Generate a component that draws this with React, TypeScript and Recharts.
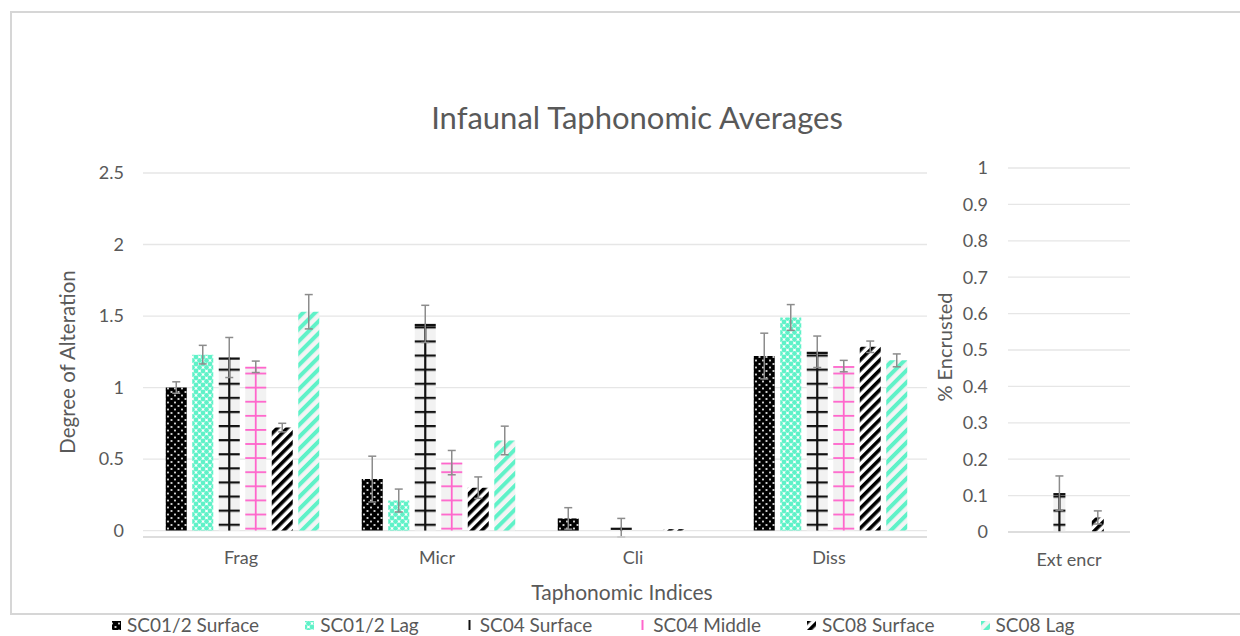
import React from 'react';
import { BarChart, Bar, XAxis, YAxis, CartesianGrid, ErrorBar } from 'recharts';

// ---------- data ----------
const categories = ['Frag', 'Micr', 'Cli', 'Diss'];
const seriesNames = ['SC01/2 Surface', 'SC01/2 Lag', 'SC04 Surface', 'SC04 Middle', 'SC08 Surface', 'SC08 Lag'];

const sc012Surface = [1.0, 0.36, 0.085, 1.22];
const sc012Lag = [1.23, 0.21, 0, 1.49];
const sc04Surface = [1.21, 1.445, 0.02, 1.25];
const sc04Middle = [1.145, 0.475, 0, 1.15];
const sc08Surface = [0.72, 0.3, 0.01, 1.285];
const sc08Lag = [1.53, 0.63, 0, 1.19];

const sc012SurfaceErr = [0.04, 0.16, 0.075, 0.16];
const sc012LagErr = [0.065, 0.08, 0, 0.09];
const sc04SurfaceErr = [0.14, 0.13, 0.065, 0.11];
const sc04MiddleErr = [0.04, 0.085, 0, 0.04];
const sc08SurfaceErr = [0.03, 0.075, 0, 0.04];
const sc08LagErr = [0.12, 0.1, 0, 0.045];

const leftTicks = [0, 0.5, 1, 1.5, 2, 2.5];

const encrCategories = ['Ext encr'];
const encrValues = [0, 0, 0.107, 0, 0.04, 0];
const encrErrors = [0, 0, 0.047, 0, 0.018, 0];
const rightTicks = [0, 0.1, 0.2, 0.3, 0.4, 0.5, 0.6, 0.7, 0.8, 0.9, 1];

const seriesValues = [sc012Surface, sc012Lag, sc04Surface, sc04Middle, sc08Surface, sc08Lag];
const seriesErrors = [sc012SurfaceErr, sc012LagErr, sc04SurfaceErr, sc04MiddleErr, sc08SurfaceErr, sc08LagErr];

const leftData = categories.map((name, i) => {
  const row: any = { name };
  seriesValues.forEach((arr, k) => {
    row[`s${k}`] = arr[i];
    row[`e${k}`] = seriesErrors[k][i];
  });
  return row;
});

const rightData = encrCategories.map((name) => {
  const row: any = { name };
  encrValues.forEach((v, k) => {
    row[`s${k}`] = v;
    row[`e${k}`] = encrErrors[k];
  });
  return row;
});

// ---------- style ----------
const FONT = 'Lato, "Open Sans", sans-serif';
const TXT = '#595959';
const MINT = '#5ff2c8';
const PINK = '#ff66cc';
const ERR = '#8c8c8c';

const makeLadder = (patternId: string, color: string, thick: number) => (props: any) => {
  const { x, y, width, height } = props;
  if (!height || height <= 0) return <g />;
  const cx = x + width / 2;
  return (
    <g>
      <rect x={x} y={y} width={width} height={height} fill={`url(#${patternId})`} />
      <line x1={x} x2={x + width} y1={y + thick / 2} y2={y + thick / 2} stroke={color} strokeWidth={thick} />
      <line x1={cx} x2={cx} y1={y} y2={y + height} stroke={color} strokeWidth={thick} />
    </g>
  );
};

const fills = ['url(#pDotsBlack)', 'url(#pDotsMint)', '#f2f2f2', '#f2f2f2', 'url(#pStripeBlack)', 'url(#pStripeMint)'];
const shapes: any[] = [undefined, undefined, makeLadder('pHBlack', '#111', 2.2), makeLadder('pHPink', PINK, 1.8), undefined, undefined];

const Defs = () => (
  <svg width={0} height={0} style={{ position: 'absolute' }}>
    <defs>
      <pattern id="pDotsBlack" patternUnits="userSpaceOnUse" width={7} height={7}>
        <rect width={7} height={7} fill="#fff" />
        <circle cx={0} cy={0} r={2.7} fill="#000" />
        <circle cx={7} cy={0} r={2.7} fill="#000" />
        <circle cx={0} cy={7} r={2.7} fill="#000" />
        <circle cx={7} cy={7} r={2.7} fill="#000" />
        <circle cx={3.5} cy={3.5} r={2.7} fill="#000" />
      </pattern>
      <pattern id="pDotsMint" patternUnits="userSpaceOnUse" width={7} height={7}>
        <rect width={7} height={7} fill="#fff" />
        <circle cx={0} cy={0} r={2.4} fill={MINT} />
        <circle cx={7} cy={0} r={2.4} fill={MINT} />
        <circle cx={0} cy={7} r={2.4} fill={MINT} />
        <circle cx={7} cy={7} r={2.4} fill={MINT} />
        <circle cx={3.5} cy={3.5} r={2.4} fill={MINT} />
      </pattern>
      <pattern id="pStripeBlack" patternUnits="userSpaceOnUse" width={7} height={7} patternTransform="rotate(45)">
        <rect width={7} height={7} fill="#fff" />
        <rect width={3.6} height={7} fill="#000" />
      </pattern>
      <pattern id="pStripeMint" patternUnits="userSpaceOnUse" width={8.5} height={8.5} patternTransform="rotate(45)">
        <rect width={8.5} height={8.5} fill="#f4f4f4" />
        <rect width={4} height={8.5} fill={MINT} />
      </pattern>
      <pattern id="pHBlack" patternUnits="userSpaceOnUse" width={10} height={14.1} y={2}>
        <rect width={10} height={14.1} fill="#f2f2f2" />
        <rect width={10} height={2.2} fill="#111" />
      </pattern>
      <pattern id="pHPink" patternUnits="userSpaceOnUse" width={10} height={14.1} y={6}>
        <rect width={10} height={14.1} fill="#f2f2f2" />
        <rect width={10} height={1.8} fill={PINK} />
      </pattern>
    </defs>
  </svg>
);

const Swatch = ({ k }: { k: number }) => {
  if (k === 2 || k === 3) {
    return (
      <svg width={9} height={10} style={{ marginRight: 6 }}>
        <line x1={4.5} x2={4.5} y1={0} y2={10} stroke={k === 2 ? '#111' : PINK} strokeWidth={2} />
      </svg>
    );
  }
  return (
    <svg width={9} height={10} style={{ marginRight: 6 }}>
      <rect x={0} y={1} width={9} height={9} fill={fills[k]} />
    </svg>
  );
};

const tickStyle = { fill: TXT, fontSize: 18, fontFamily: FONT };

export default function App() {
  return (
    <div
      style={{
        position: 'fixed',
        left: 0,
        top: 0,
        width: 1240,
        height: 636,
        background: '#fff',
        overflow: 'hidden',
        fontFamily: FONT,
      }}
    >
      <Defs />
      <div
        style={{
          position: 'absolute',
          left: 10,
          top: 11,
          width: 1300,
          height: 604,
          boxSizing: 'border-box',
          border: '2px solid #d6d6d6',
        }}
      />

      {/* left chart */}
      <div style={{ position: 'absolute', left: 0, top: 0 }}>
        <BarChart
          width={940}
          height={636}
          data={leftData}
          margin={{ top: 173, right: 13, bottom: 69, left: 83 }}
          barCategoryGap={22.75}
          barGap={5.5}
        >
          <CartesianGrid vertical={false} stroke="#e6e6e6" strokeWidth={1.3} />
          <XAxis
            dataKey="name"
            height={30}
            tickLine={false}
            tickSize={0}
            tickMargin={14}
            axisLine={{ stroke: '#d9d9d9', strokeWidth: 1.5 }}
            tick={tickStyle}
          />
          <YAxis
            width={60}
            domain={[0, 2.5]}
            ticks={leftTicks}
            axisLine={false}
            tickLine={false}
            tickSize={0}
            tickMargin={19}
            tick={tickStyle}
          />
          {seriesNames.map((n, k) => (
            <Bar key={n} dataKey={`s${k}`} name={n} fill={fills[k]} shape={shapes[k]} isAnimationActive={false}>
              <ErrorBar dataKey={`e${k}`} width={4} stroke={ERR} strokeWidth={1.5} />
            </Bar>
          ))}
        </BarChart>
      </div>

      {/* right chart */}
      <div style={{ position: 'absolute', left: 900, top: 0 }}>
        <BarChart
          width={340}
          height={636}
          data={rightData}
          margin={{ top: 168, right: 110, bottom: 74, left: 48 }}
          barSize={12}
          barGap={7.2}
        >
          <CartesianGrid vertical={false} stroke="#e6e6e6" strokeWidth={1.3} />
          <XAxis
            dataKey="name"
            height={30}
            tickLine={false}
            tickSize={0}
            tickMargin={21}
            axisLine={{ stroke: '#d9d9d9', strokeWidth: 1.5 }}
            tick={tickStyle}
          />
          <YAxis
            width={60}
            domain={[0, 1]}
            ticks={rightTicks}
            axisLine={false}
            tickLine={false}
            tickSize={0}
            tickMargin={20}
            tick={tickStyle}
          />
          {seriesNames.map((n, k) => (
            <Bar key={n} dataKey={`s${k}`} name={n} fill={fills[k]} shape={shapes[k]} isAnimationActive={false}>
              <ErrorBar dataKey={`e${k}`} width={4} stroke={ERR} strokeWidth={1.5} />
            </Bar>
          ))}
        </BarChart>
      </div>

      {/* titles */}
      <svg width={1240} height={636} style={{ position: 'absolute', left: 0, top: 0, pointerEvents: 'none' }}>
        <text x={637} y={129} textAnchor="middle" fill={TXT} fontSize={31} fontFamily={FONT}>
          Infaunal Taphonomic Averages
        </text>
        <text x={75} y={362} textAnchor="middle" fill={TXT} fontSize={20.5} fontFamily={FONT} transform="rotate(-90, 75, 362)">
          Degree of Alteration
        </text>
        <text x={622} y={600} textAnchor="middle" fill={TXT} fontSize={21} fontFamily={FONT}>
          Taphonomic Indices
        </text>
        <text x={952} y={347} textAnchor="middle" fill={TXT} fontSize={20} fontFamily={FONT} transform="rotate(-90, 952, 347)">
          % Encrusted
        </text>
      </svg>

      {/* legend */}
      <div
        style={{
          position: 'absolute',
          left: 112,
          top: 614,
          display: 'flex',
          alignItems: 'center',
          gap: 46,
          whiteSpace: 'nowrap',
          color: TXT,
          fontSize: 19,
          lineHeight: '22px',
        }}
      >
        {seriesNames.map((n, k) => (
          <div key={n} style={{ display: 'flex', alignItems: 'center' }}>
            <Swatch k={k} />
            <span>{n}</span>
          </div>
        ))}
      </div>
    </div>
  );
}
